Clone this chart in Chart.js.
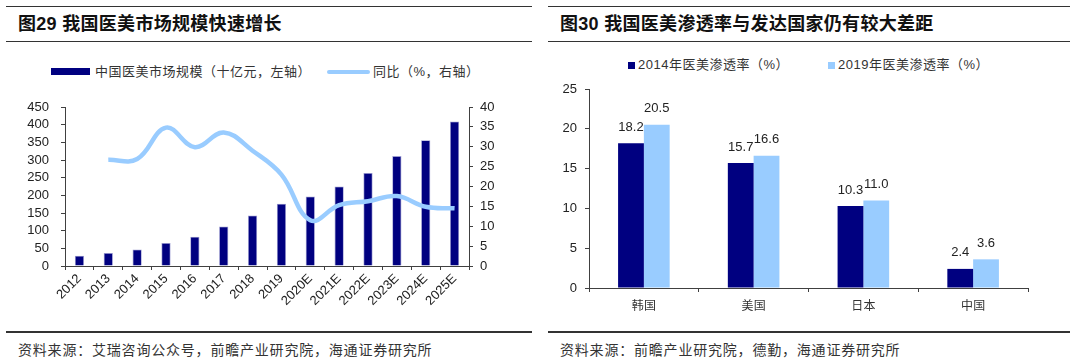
<!DOCTYPE html>
<html>
<head>
<meta charset="utf-8">
<script src="https://cdn.jsdelivr.net/npm/chart.js@4/dist/chart.umd.min.js"></script>
<style>
  html, body { margin: 0; padding: 0; background: #fff; }
  body { width: 1080px; height: 362px; position: relative; overflow: hidden;
         font-family: 'Liberation Sans', Arial, 'Noto Sans CJK SC', sans-serif; color: #222; }
  .rule { position: absolute; height: 1.5px; background: #333; }
  .title { position: absolute; font-size: 18px; font-weight: bold; line-height: 20px; letter-spacing: 0.3px; white-space: nowrap; color: #111; }
  .leg { position: absolute; font-size: 13px; line-height: 16px; letter-spacing: 0.5px; white-space: nowrap; color: #333; }
  .src { position: absolute; font-size: 14px; line-height: 18px; letter-spacing: 0.8px; white-space: nowrap; color: #333; }
  .sw { position: absolute; }
  canvas { position: absolute; }
</style>
</head>
<body>
<div class="rule" style="left:6px;top:5.5px;width:526px"></div>
<div class="rule" style="left:6px;top:40.5px;width:526px"></div>
<div class="rule" style="left:6px;top:331px;width:526px"></div>
<div class="rule" style="left:548px;top:5.5px;width:522px"></div>
<div class="rule" style="left:548px;top:40.5px;width:522px"></div>
<div class="rule" style="left:548px;top:331px;width:522px"></div>

<div class="title" style="left:18px;top:14px">图29 我国医美市场规模快速增长</div>
<div class="title" style="left:560px;top:14px">图30 我国医美渗透率与发达国家仍有较大差距</div>

<div class="sw" style="left:51px;top:68px;width:39px;height:7px;background:#000080"></div>
<div class="leg" style="left:95px;top:64px">中国医美市场规模（十亿元，左轴）</div>
<div class="sw" style="left:327px;top:69.5px;width:43px;height:4.5px;background:#99CCFF;border-radius:2px"></div>
<div class="leg" style="left:373px;top:64px">同比（%，右轴）</div>

<div class="sw" style="left:628px;top:62px;width:7px;height:7px;background:#000080"></div>
<div class="leg" style="left:638px;top:57px">2014年医美渗透率（%）</div>
<div class="sw" style="left:828px;top:62px;width:7px;height:7px;background:#99CCFF"></div>
<div class="leg" style="left:838px;top:57px">2019年医美渗透率（%）</div>

<div class="src" style="left:18px;top:341px">资料来源：艾瑞咨询公众号，前瞻产业研究院，海通证券研究所</div>
<div class="src" style="left:560px;top:341px">资料来源：前瞻产业研究院，德勤，海通证券研究所</div>

<canvas id="c1" style="left:0px;top:95px;width:540px;height:225px" width="540" height="225"></canvas>
<canvas id="c2" style="left:540px;top:80px;width:540px;height:240px" width="540" height="240"></canvas>

<script>
// ---- Chart 1 data ----
const years = ['2012','2013','2014','2015','2016','2017','2018','2019','2020E','2021E','2022E','2023E','2024E','2025E'];
const marketSize = [29, 37, 47, 65, 83, 112, 143, 176, 197, 225, 263, 311, 356, 409];
const yoyGrowth = [null, 26.7, 26.9, 34.8, 29.9, 33.6, 29.0, 23.0, 11.5, 15.3, 16.3, 17.6, 14.9, 14.5];
const leftTicks = [0, 50, 100, 150, 200, 250, 300, 350, 400, 450];
const rightTicks = [0, 5, 10, 15, 20, 25, 30, 35, 40];

// ---- Chart 2 data ----
const countries = ['韩国', '美国', '日本', '中国'];
const pen2014 = [18.2, 15.7, 10.3, 2.4];
const pen2019 = [20.5, 16.6, 11.0, 3.6];
const penTicks = [0, 5, 10, 15, 20, 25];

const NAVY = '#000080';
const LIGHT = '#99CCFF';
const AXIS = '#404040';
const FONT = "'Liberation Sans', Arial, sans-serif";

Chart.defaults.font.family = FONT;
Chart.defaults.color = '#222';
Chart.defaults.animation = false;

function fixedTicks(arr) {
  return function(scale) { scale.ticks = arr.map(v => ({ value: v })); };
}
function fitSize(w, h) {
  return function(s) {
    if (w !== null) s.width = w;
    if (h !== null) s.height = h;
    s.paddingTop = 0; s.paddingBottom = 0; s.paddingLeft = 0; s.paddingRight = 0;
  };
}

const chart1 = new Chart(document.getElementById('c1'), {
  data: {
    labels: years,
    datasets: [
      { type: 'line', label: '同比（%，右轴）', data: yoyGrowth, yAxisID: 'y1',
        borderColor: LIGHT, borderWidth: 4.5, pointRadius: 0, tension: 0.4, fill: false, order: 0 },
      { type: 'bar', label: '中国医美市场规模（十亿元，左轴）', data: marketSize, yAxisID: 'y',
        backgroundColor: NAVY, borderColor: '#9a9ad0', borderWidth: 0.8,
        categoryPercentage: 1, barPercentage: 0.32, order: 1 }
    ]
  },
  options: {
    responsive: false,
    maintainAspectRatio: false,
    layout: { padding: { top: 12, left: 0, right: 0, bottom: 0 } },
    plugins: { legend: { display: false }, tooltip: { enabled: false } },
    scales: {
      x: {
        type: 'category',
        offset: true,
        grid: { offset: true, drawOnChartArea: false, drawTicks: true, tickLength: 4, color: AXIS },
        border: { display: true, color: AXIS, width: 1 },
        ticks: { minRotation: 45, maxRotation: 45, autoSkip: false, padding: 1, color: '#222', font: { size: 13 } },
        afterFit: fitSize(null, 54)
      },
      y: {
        position: 'left', min: 0, max: 450,
        afterBuildTicks: fixedTicks(leftTicks),
        grid: { drawOnChartArea: false, drawTicks: true, tickLength: 4, color: AXIS },
        border: { display: true, color: AXIS, width: 1 },
        ticks: { padding: 12, autoSkip: false, color: '#222', font: { size: 13 } },
        afterFit: fitSize(65, null)
      },
      y1: {
        position: 'right', min: 0, max: 40,
        afterBuildTicks: fixedTicks(rightTicks),
        grid: { drawOnChartArea: false, drawTicks: true, tickLength: 4, color: AXIS },
        border: { display: true, color: AXIS, width: 1 },
        ticks: { padding: 7, autoSkip: false, color: '#222', font: { size: 13 } },
        afterFit: fitSize(71, null)
      }
    }
  }
});

const valueLabels = {
  id: 'valueLabels',
  afterDatasetsDraw(chart) {
    const ctx = chart.ctx;
    ctx.save();
    ctx.font = '13px ' + FONT;
    ctx.fillStyle = '#222';
    ctx.textAlign = 'center';
    ctx.textBaseline = 'middle';
    chart.data.datasets.forEach((ds, i) => {
      const meta = chart.getDatasetMeta(i);
      meta.data.forEach((el, j) => {
        ctx.fillText(ds.data[j].toFixed(1), el.x, el.y - 16);
      });
    });
    ctx.restore();
  }
};

const chart2 = new Chart(document.getElementById('c2'), {
  type: 'bar',
  data: {
    labels: countries,
    datasets: [
      { label: '2014年医美渗透率（%）', data: pen2014, backgroundColor: NAVY,
        categoryPercentage: 0.47, barPercentage: 1 },
      { label: '2019年医美渗透率（%）', data: pen2019, backgroundColor: LIGHT,
        categoryPercentage: 0.47, barPercentage: 1 }
    ]
  },
  plugins: [valueLabels],
  options: {
    responsive: false,
    maintainAspectRatio: false,
    layout: { padding: { top: 9, left: 0, right: 52, bottom: 0 } },
    plugins: { legend: { display: false }, tooltip: { enabled: false } },
    scales: {
      x: {
        grid: { offset: true, drawOnChartArea: false, drawTicks: true, tickLength: 4, color: AXIS },
        border: { display: true, color: AXIS, width: 1 },
        ticks: { padding: 6, color: '#333', font: { size: 12, family: "'Noto Sans CJK SC', sans-serif" } },
        afterFit: fitSize(null, 32)
      },
      y: {
        min: 0, max: 25,
        afterBuildTicks: fixedTicks(penTicks),
        grid: { drawOnChartArea: false, drawTicks: true, tickLength: 4, color: AXIS },
        border: { display: true, color: AXIS, width: 1 },
        ticks: { padding: 8, autoSkip: false, color: '#222', font: { size: 13 } },
        afterFit: fitSize(49, null)
      }
    }
  }
});
</script>
</body>
</html>
